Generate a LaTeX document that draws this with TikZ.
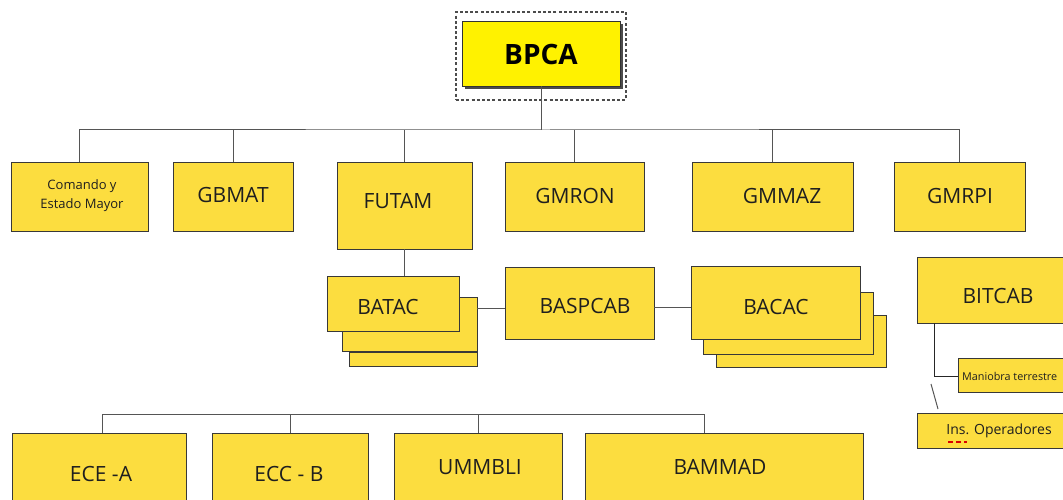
\documentclass[tikz,border=0pt]{standalone}
\usepackage{fontspec}
\setmainfont{Open Sans}
\usetikzlibrary{fit}
\definecolor{gold}{RGB}{252,221,63}
\definecolor{lineg}{RGB}{85,85,85}
\tikzset{
  box/.style={draw=black!78, fill=gold, line width=0.9pt, inner sep=0pt},
  lbl/.style={text=black!88, inner sep=0pt, font=\fontsize{21}{25}\selectfont},
  smalllbl/.style={text=black!88, inner sep=0pt, align=center, font=\fontsize{13}{19}\selectfont},
  conn/.style={draw=lineg, line width=1pt}
}
\begin{document}
\begin{tikzpicture}[x=1pt,y=-1pt]
\useasboundingbox (0,0) rectangle (1063,500);
\fill[white] (0,0) rectangle (1063,500);

% BPCA
\node[draw=black!70, line width=1.8pt, dash pattern=on 3pt off 2.2pt, inner sep=0pt, fit={(456,12) (626,100)}] (frame) {};
\fill[black!70] (465,24) rectangle (623,89);
\node[draw=black!80, fill=yellow, line width=0.8pt, inner sep=0pt, fit={(462,21) (620,86)}] (bpca) {};
\node[lbl, font=\fontsize{28}{32}\selectfont\bfseries, text=black] (t-bpca) at (541,54) {BPCA};

% Row 1
\node[box, fit={(11,162) (148,231)}] (cem) {};
\node[smalllbl] (t-cem) at (82,196) {Comando y\\Estado Mayor};
\node[box, fit={(173,162) (293,231)}] (gbmat) {};
\node[lbl] (t-gbmat) at (233,195) {GBMAT};
\node[box, fit={(337,162) (472,249)}] (futam) {};
\node[lbl] (t-futam) at (398,201) {FUTAM};
\node[box, fit={(505,162) (644,231)}] (gmron) {};
\node[lbl] (t-gmron) at (575,196) {GMRON};
\node[box, fit={(692,162) (853,231)}] (gmmaz) {};
\node[lbl] (t-gmmaz) at (782,196) {GMMAZ};
\node[box, fit={(894,162) (1025,231)}] (gmrpi) {};
\node[lbl] (t-gmrpi) at (960,196) {GMRPI};

\coordinate (bus1) at (546,130);
\draw[conn] (bpca.south) -- (bpca.south |- bus1);
\draw[conn] (cem.north) |- (bus1) -| (gmrpi.north);
\draw[conn] (gbmat.north) -- (gbmat.north |- bus1);
\draw[conn] (futam.north) -- (futam.north |- bus1);
\draw[conn] (gmron.north) -- (gmron.north |- bus1);
\draw[conn] (gmmaz.north) -- (gmmaz.north |- bus1);

% BATAC stack
\node[box, fit={(349,352) (477,366)}] (batac3) {};
\node[box, fit={(342,297) (477,351)}] (batac2) {};
\node[box, fit={(327,276) (459,331)}] (batac1) {};
\node[lbl] (t-batac) at (388,307) {BATAC};
\draw[conn] (futam.south) -- (futam.south |- batac1.north);

% BASPCAB
\node[box, fit={(505,267) (654,339)}] (baspcab) {};
\node[lbl] (t-baspcab) at (585,306) {BASPCAB};
\coordinate (l1) at (490,308);
\draw[conn] (batac2.east |- l1) -- (baspcab.west |- l1);

% BACAC stack
\node[box, fit={(716,315) (886,367)}] (bacac3) {};
\node[box, fit={(703,292) (873,354)}] (bacac2) {};
\node[box, fit={(691,266) (860,339)}] (bacac1) {};
\node[lbl] (t-bacac) at (776,307) {BACAC};
\coordinate (l2) at (670,307);
\draw[conn] (baspcab.east |- l2) -- (bacac1.west |- l2);

% BITCAB branch
\node[box, fit={(917,257) (1075,323)}] (bitcab) {};
\node[lbl] (t-bitcab) at (998,296) {BITCAB};
\node[box, fit={(958,358) (1075,392)}] (maniobra) {};
\node[smalllbl, anchor=west, font=\fontsize{10.8}{13}\selectfont] (t-maniobra) at (962,376) {Maniobra terrestre};
\coordinate (k1) at (934,376);
\draw[conn, draw=black!85] (k1 |- bitcab.south) -- (k1) -- (maniobra.west |- k1);
\node[box, fit={(917,413) (1075,448)}] (insop) {};
\node[smalllbl, font=\fontsize{14}{18}\selectfont] (t-insop) at (999,431) {Ins. Operadores};
\coordinate (s1) at (931,384);
\coordinate (s2) at (938,409);
\draw[conn] (s1) -- (s2);
\draw[red!85!black, line width=1.4pt, dash pattern=on 5pt off 3pt] (948,442) -- (967,442);

% Bottom row
\node[box, fit={(12,433) (186,520)}] (ecea) {};
\node[lbl] (t-ecea) at (101,474) {ECE -A};
\node[box, fit={(212,433) (368,520)}] (eccb) {};
\node[lbl] (t-eccb) at (289,474) {ECC - B};
\node[box, fit={(394,433) (562,520)}] (ummbli) {};
\node[lbl] (t-ummbli) at (480,467) {UMMBLI};
\node[box, fit={(585,433) (863,520)}] (bammad) {};
\node[lbl] (t-bammad) at (720,467) {BAMMAD};
\coordinate (bus2) at (704,414);
\coordinate (ecestem) at (102,414);
\draw[conn] (ecestem |- ecea.north) -- (ecestem) -- (bus2) -- (bus2 |- bammad.north);
\draw[conn] (eccb.north) -- (eccb.north |- bus2);
\draw[conn] (ummbli.north) -- (ummbli.north |- bus2);
\end{tikzpicture}
\end{document}
